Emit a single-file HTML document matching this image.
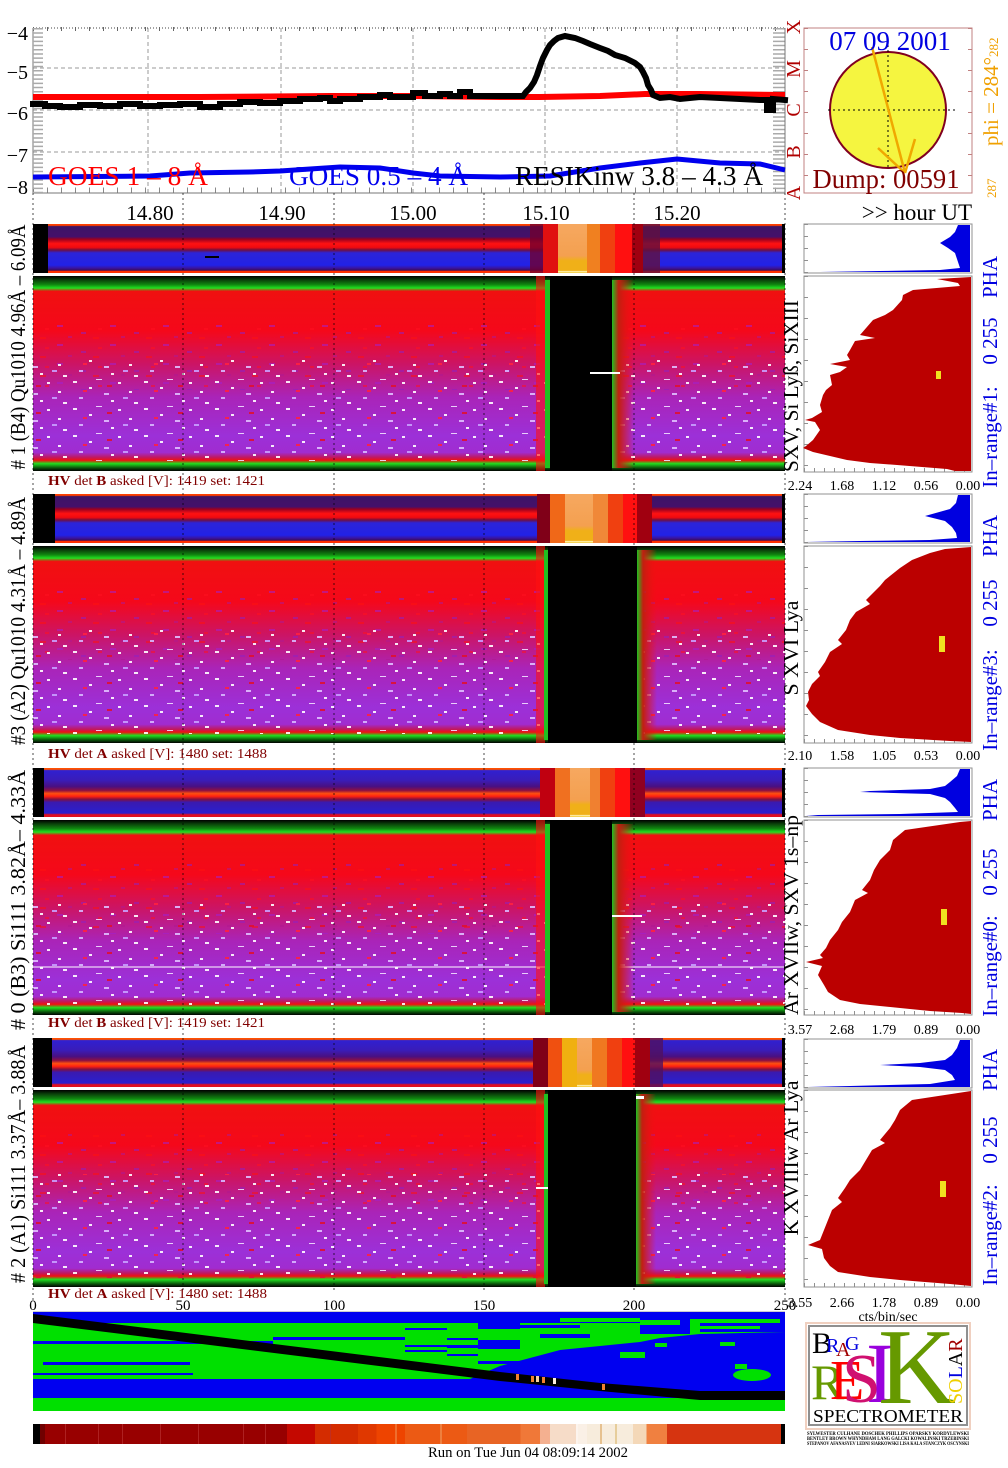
<!DOCTYPE html>
<html><head><meta charset="utf-8">
<style>html,body{margin:0;padding:0;background:#fff}svg{display:block}</style></head>
<body>
<svg width="1008" height="1468" viewBox="0 0 1008 1468" xmlns="http://www.w3.org/2000/svg" font-family="'Liberation Serif', serif">
<defs>
 <linearGradient id="bigG" x1="0" y1="0" x2="0" y2="1">
  <stop offset="0" stop-color="#000"/>
  <stop offset="0.02" stop-color="#0a400a"/>
  <stop offset="0.045" stop-color="#108a10"/>
  <stop offset="0.062" stop-color="#20e020"/>
  <stop offset="0.078" stop-color="#f01010"/>
  <stop offset="0.28" stop-color="#f5081a"/>
  <stop offset="0.45" stop-color="#cc1464"/>
  <stop offset="0.62" stop-color="#aa24b8"/>
  <stop offset="0.82" stop-color="#9c30d8"/>
  <stop offset="0.905" stop-color="#a02cd0"/>
  <stop offset="0.93" stop-color="#c01860"/>
  <stop offset="0.945" stop-color="#f01010"/>
  <stop offset="0.962" stop-color="#20e020"/>
  <stop offset="0.985" stop-color="#0a500a"/>
  <stop offset="1" stop-color="#000"/>
 </linearGradient>
 <linearGradient id="stripA" x1="0" y1="0" x2="0" y2="1">
  <stop offset="0" stop-color="#ff4000"/>
  <stop offset="0.03" stop-color="#ff4000"/>
  <stop offset="0.05" stop-color="#3c1466"/>
  <stop offset="0.26" stop-color="#44106a"/>
  <stop offset="0.31" stop-color="#9a0020"/>
  <stop offset="0.40" stop-color="#ff1212"/>
  <stop offset="0.48" stop-color="#ee0a10"/>
  <stop offset="0.53" stop-color="#701040"/>
  <stop offset="0.59" stop-color="#2c24d8"/>
  <stop offset="0.84" stop-color="#2222e6"/>
  <stop offset="0.90" stop-color="#3a14a0"/>
  <stop offset="0.945" stop-color="#3a0a5a"/>
  <stop offset="0.96" stop-color="#ff3000"/>
  <stop offset="1" stop-color="#ff3000"/>
 </linearGradient>
 <linearGradient id="stripB" x1="0" y1="0" x2="0" y2="1">
  <stop offset="0" stop-color="#ff5000"/>
  <stop offset="0.03" stop-color="#ff5000"/>
  <stop offset="0.05" stop-color="#3020d0"/>
  <stop offset="0.25" stop-color="#3a1cb8"/>
  <stop offset="0.38" stop-color="#4a1080"/>
  <stop offset="0.46" stop-color="#901040"/>
  <stop offset="0.52" stop-color="#ff5010"/>
  <stop offset="0.58" stop-color="#ff2010"/>
  <stop offset="0.64" stop-color="#801040"/>
  <stop offset="0.70" stop-color="#3a1ab0"/>
  <stop offset="0.92" stop-color="#2a20d0"/>
  <stop offset="0.955" stop-color="#e01020"/>
  <stop offset="1" stop-color="#e01020"/>
 </linearGradient>
 <linearGradient id="flLight" x1="0" y1="0" x2="0" y2="1">
  <stop offset="0" stop-color="#f6a860"/>
  <stop offset="0.65" stop-color="#f4a050"/>
  <stop offset="0.75" stop-color="#f0b018"/>
  <stop offset="0.95" stop-color="#f0b018"/>
  <stop offset="0.97" stop-color="#fff8c0"/>
  <stop offset="1" stop-color="#f0c020"/>
 </linearGradient>
 <linearGradient id="edgeG" x1="0" y1="0" x2="1" y2="0">
  <stop offset="0" stop-color="#20c020"/>
  <stop offset="0.3" stop-color="#c02010"/>
  <stop offset="1" stop-color="#f01010" stop-opacity="0"/>
 </linearGradient>
 <pattern id="spk" width="71" height="27" patternUnits="userSpaceOnUse">
  <rect x="2" y="3" width="4" height="2" fill="#fff"/>
  <rect x="18" y="9" width="3" height="2" fill="#fff"/>
  <rect x="33" y="15" width="5" height="2" fill="#e0c0ff"/>
  <rect x="47" y="4" width="3" height="2" fill="#fff"/>
  <rect x="8" y="19" width="4" height="2" fill="#d8b8ff"/>
  <rect x="40" y="22" width="3" height="2" fill="#fff"/>
  <rect x="25" y="1" width="6" height="1" fill="#f0e0ff"/>
  <rect x="58" y="13" width="3" height="2" fill="#fff"/>
  <rect x="12" y="12" width="4" height="2" fill="#ff2040"/>
  <rect x="36" y="7" width="5" height="2" fill="#e01030"/>
  <rect x="63" y="24" width="4" height="2" fill="#fff"/>
  <rect x="52" y="19" width="5" height="2" fill="#c8a0ff"/>
 </pattern>
 <pattern id="rn" width="53" height="19" patternUnits="userSpaceOnUse">
  <rect x="4" y="2" width="6" height="2" fill="#a020d0"/>
  <rect x="28" y="9" width="5" height="2" fill="#9020c0"/>
  <rect x="40" y="14" width="6" height="2" fill="#ff1010"/>
  <rect x="15" y="13" width="4" height="2" fill="#b01890"/>
  <rect x="45" y="5" width="4" height="2" fill="#ff1020"/>
 </pattern>
 <linearGradient id="cbar" gradientUnits="userSpaceOnUse" x1="33" y1="0" x2="785" y2="0">
  <stop offset="0" stop-color="#000"/><stop offset="0.0093" stop-color="#000"/>
  <stop offset="0.0093" stop-color="#700000"/><stop offset="0.016" stop-color="#700000"/>
  <stop offset="0.016" stop-color="#980000"/><stop offset="0.338" stop-color="#980000"/>
  <stop offset="0.338" stop-color="#c40800"/><stop offset="0.375" stop-color="#c40800"/>
  <stop offset="0.375" stop-color="#d42c00"/><stop offset="0.432" stop-color="#d42c00"/>
  <stop offset="0.432" stop-color="#e03800"/><stop offset="0.457" stop-color="#e03800"/>
  <stop offset="0.457" stop-color="#ee4400"/><stop offset="0.495" stop-color="#ee4400"/>
  <stop offset="0.495" stop-color="#ec5a14"/><stop offset="0.577" stop-color="#ec5a14"/>
  <stop offset="0.577" stop-color="#e86424"/><stop offset="0.648" stop-color="#e86424"/>
  <stop offset="0.648" stop-color="#f07838"/><stop offset="0.674" stop-color="#f07838"/>
  <stop offset="0.674" stop-color="#f4b090"/><stop offset="0.6875" stop-color="#f4b090"/>
  <stop offset="0.6875" stop-color="#f6dcc8"/><stop offset="0.725" stop-color="#f6dcc8"/>
  <stop offset="0.725" stop-color="#faf0e6"/><stop offset="0.737" stop-color="#faf0e6"/>
  <stop offset="0.737" stop-color="#f7ecdc"/><stop offset="0.798" stop-color="#f7ecdc"/>
  <stop offset="0.798" stop-color="#f4d8b8"/><stop offset="0.816" stop-color="#f4d8b8"/>
  <stop offset="0.816" stop-color="#f08040"/><stop offset="0.843" stop-color="#f08040"/>
  <stop offset="0.843" stop-color="#d63410"/><stop offset="0.995" stop-color="#d63410"/>
  <stop offset="0.995" stop-color="#000"/><stop offset="1" stop-color="#000"/>
 </linearGradient>
</defs>

<!-- ================= TOP PLOT ================= -->
<g stroke="#999" stroke-width="1" stroke-dasharray="4,3">
 <line x1="33" y1="68" x2="785" y2="68"/>
 <line x1="33" y1="110" x2="785" y2="110"/>
 <line x1="33" y1="152" x2="785" y2="152"/>
 <line x1="148" y1="28" x2="148" y2="193"/>
 <line x1="281" y1="28" x2="281" y2="193"/>
 <line x1="413" y1="28" x2="413" y2="193"/>
 <line x1="545" y1="28" x2="545" y2="193"/>
 <line x1="677" y1="28" x2="677" y2="193"/>
</g>
<line x1="33" y1="28" x2="785" y2="28" stroke="#444" stroke-width="1" stroke-dasharray="1,2"/>
<line x1="33" y1="29" x2="785" y2="29" stroke="#666" stroke-width="4" stroke-dasharray="1,13"/>
<line x1="33" y1="193" x2="785" y2="193" stroke="#777" stroke-width="1"/>
<line x1="33" y1="190" x2="785" y2="190" stroke="#888" stroke-width="5" stroke-dasharray="1,13"/>
<line x1="33" y1="28" x2="33" y2="193" stroke="#777" stroke-width="1"/>
<line x1="38" y1="28" x2="38" y2="193" stroke="#aaa" stroke-width="10" stroke-dasharray="1.5,2.7"/>
<line x1="779" y1="28" x2="779" y2="193" stroke="#aaa" stroke-width="12" stroke-dasharray="1.5,2.7"/>
<line x1="785" y1="28" x2="785" y2="193" stroke="#777" stroke-width="1"/>

<g font-size="20" fill="#000" text-anchor="end">
 <text x="28" y="40">−4</text>
 <text x="28" y="79">−5</text>
 <text x="28" y="120">−6</text>
 <text x="28" y="162">−7</text>
 <text x="28" y="194">−8</text>
</g>

<polyline fill="none" stroke="#ff0000" stroke-width="6" points="33,97 200,97 330,96 413,96 500,97 540,97 600,96 645,94 700,94 785,95"/>
<polyline fill="none" stroke="#000" stroke-width="6" stroke-linejoin="miter" stroke-linecap="square" points="33,104 45,104 45,106 60,106 60,107 80,107 80,105 100,105 100,106 120,106 120,104 140,104 140,106 160,106 160,105 180,105 180,104 200,104 200,107 220,107 220,104 240,104 240,102 260,102 260,103 280,103 280,101 300,101 300,99 320,99 320,98 330,98 330,101 340,101 340,99 360,99 360,97 380,97 380,95 390,95 390,97 413,97 413,93 425,93 425,96 440,96 440,94 450,94 450,96 460,96 460,92 470,92 470,96 523,96 526,92 530,88 534,82 537,75 540,66 543,58 547,50 550,45 554,41 558,38 565,36 575,38 583,41 590,44 600,48 608,51 615,55 625,58 635,63 640,67 643,72 646,78 648,85 651,90 653,95 660,98 670,97 680,99 700,97 720,98 740,99 760,100 767,100 767,110 773,110 773,99 785,100"/>
<polyline fill="none" stroke="#0000ee" stroke-width="5" points="33,177 150,176 190,173 250,172 280,171 340,167 380,168 413,173 440,176 500,177 550,176 600,168 640,163 677,159 720,163 760,164 785,170"/>

<text x="48" y="185" font-size="27" fill="#ff0000" textLength="160" lengthAdjust="spacingAndGlyphs">GOES 1 – 8 Å</text>
<text x="289" y="185" font-size="27" fill="#0000ee" textLength="179" lengthAdjust="spacingAndGlyphs">GOES 0.5 – 4 Å</text>
<text x="515" y="185" font-size="27" fill="#000" textLength="248" lengthAdjust="spacingAndGlyphs">RESIKinw 3.8 – 4.3 Å</text>

<g font-size="20" fill="#b00000" text-anchor="middle">
 <text transform="translate(800,27) rotate(-90)">X</text>
 <text transform="translate(800,69) rotate(-90)">M</text>
 <text transform="translate(800,110) rotate(-90)">C</text>
 <text transform="translate(800,152) rotate(-90)">B</text>
 <text transform="translate(800,193) rotate(-90)">A</text>
</g>

<!-- sun box -->
<rect x="804" y="28" width="168" height="165" fill="none" stroke="#c08080" stroke-width="1"/>
<line x1="806" y1="28" x2="806" y2="193" stroke="#c08080" stroke-width="4" stroke-dasharray="1,20"/>
<line x1="970" y1="28" x2="970" y2="193" stroke="#c08080" stroke-width="4" stroke-dasharray="1,20"/>
<circle cx="888" cy="110" r="58" fill="#f5f540" stroke="#800020" stroke-width="2"/>
<line x1="888" y1="45" x2="888" y2="170" stroke="#000" stroke-width="1" stroke-dasharray="2,3"/>
<line x1="828" y1="110" x2="955" y2="110" stroke="#000" stroke-width="1" stroke-dasharray="2,3"/>
<g stroke="#f0a800" stroke-width="2.5">
 <line x1="872" y1="47" x2="905" y2="173"/>
 <line x1="878" y1="148" x2="905" y2="173"/>
 <line x1="915" y1="139" x2="905" y2="173"/>
</g>
<text x="890" y="50" font-size="27" fill="#0000e0" text-anchor="middle">07 09 2001</text>
<text x="886" y="188" font-size="27" fill="#800000" text-anchor="middle" textLength="147" lengthAdjust="spacingAndGlyphs">Dump: 00591</text>
<text transform="translate(998,146) rotate(-90)" font-size="21" fill="#f0a000">phi = 284°</text>
<text transform="translate(998,57) rotate(-90)" font-size="13" fill="#f0a000">282</text>
<text transform="translate(996,198) rotate(-90)" font-size="13" fill="#f0a000">287</text>

<!-- time axis -->
<g font-size="21" fill="#000" text-anchor="middle">
 <text x="150" y="220">14.80</text>
 <text x="282" y="220">14.90</text>
 <text x="413" y="220">15.00</text>
 <text x="546" y="220">15.10</text>
 <text x="677" y="220">15.20</text>
</g>
<text x="972" y="220" font-size="23" fill="#000" text-anchor="end">&gt;&gt; hour UT</text>

<!-- ================= GROUP 1 ================= -->
<rect x="33" y="224" width="752" height="49" fill="url(#stripA)"/>
<rect x="530" y="224" width="13" height="49" fill="#700030" opacity="0.8"/>
<rect x="543" y="224" width="15" height="49" fill="#e01010"/>
<rect x="558" y="224" width="29" height="49" fill="url(#flLight)"/>
<rect x="587" y="224" width="13" height="49" fill="#f08020"/>
<rect x="600" y="224" width="15" height="49" fill="#f04010"/>
<rect x="615" y="224" width="17" height="49" fill="#ff1010"/>
<rect x="632" y="224" width="11" height="49" fill="#a00010"/>
<rect x="643" y="224" width="17" height="49" fill="#601040" opacity="0.8"/>
<rect x="33" y="224" width="15" height="49" fill="#000"/>
<rect x="782" y="224" width="3" height="49" fill="#000"/>
<rect x="205" y="256" width="14" height="2" fill="#000"/>

<rect x="33" y="276" width="752" height="195" fill="url(#bigG)"/>
<rect x="33" y="320" width="752" height="70" fill="url(#rn)" opacity="0.55"/>
<rect x="33" y="360" width="752" height="102" fill="url(#spk)" opacity="0.9"/>
<rect x="536" y="276" width="9" height="195" fill="#ff1010" opacity="0.6"/>
<rect x="545" y="280" width="5" height="188" fill="#20c020"/>
<rect x="550" y="276" width="62" height="195" fill="#000"/>
<rect x="612" y="280" width="22" height="188" fill="url(#edgeG)"/>
<rect x="590" y="372" width="30" height="2" fill="#fff"/>

<text x="48" y="485" font-size="14" fill="#800000" textLength="217" lengthAdjust="spacingAndGlyphs"><tspan font-weight="bold">HV</tspan> det <tspan font-weight="bold">B</tspan> asked [V]:  1419 set:  1421</text>

<!-- ================= GROUP 2 ================= -->
<rect x="33" y="494" width="752" height="49" fill="url(#stripA)"/>
<rect x="537" y="494" width="13" height="49" fill="#800018"/>
<rect x="550" y="494" width="15" height="49" fill="#f06818"/>
<rect x="565" y="494" width="28" height="49" fill="url(#flLight)"/>
<rect x="593" y="494" width="15" height="49" fill="#f08838"/>
<rect x="608" y="494" width="15" height="49" fill="#f04010"/>
<rect x="623" y="494" width="14" height="49" fill="#ff1010"/>
<rect x="637" y="494" width="15" height="49" fill="#a00010"/>
<rect x="33" y="494" width="22" height="49" fill="#000"/>
<rect x="782" y="494" width="3" height="49" fill="#000"/>

<rect x="33" y="546" width="752" height="197" fill="url(#bigG)"/>
<rect x="33" y="590" width="752" height="70" fill="url(#rn)" opacity="0.55"/>
<rect x="33" y="630" width="752" height="104" fill="url(#spk)" opacity="0.9"/>
<rect x="536" y="546" width="9" height="197" fill="#ff1010" opacity="0.6"/>
<rect x="544" y="550" width="4" height="190" fill="#20c020"/>
<rect x="548" y="546" width="89" height="197" fill="#000"/>
<rect x="637" y="550" width="20" height="190" fill="url(#edgeG)"/>

<text x="48" y="758" font-size="14" fill="#800000" textLength="219" lengthAdjust="spacingAndGlyphs"><tspan font-weight="bold">HV</tspan> det <tspan font-weight="bold">A</tspan> asked [V]:  1480 set:  1488</text>

<!-- ================= GROUP 3 ================= -->
<rect x="33" y="768" width="752" height="49" fill="url(#stripB)"/>
<rect x="540" y="768" width="15" height="49" fill="#c00010"/>
<rect x="555" y="768" width="15" height="49" fill="#f07020"/>
<rect x="570" y="768" width="20" height="49" fill="url(#flLight)"/>
<rect x="590" y="768" width="10" height="49" fill="#f08030"/>
<rect x="600" y="768" width="15" height="49" fill="#f04010"/>
<rect x="615" y="768" width="15" height="49" fill="#ff1010"/>
<rect x="630" y="768" width="15" height="49" fill="#900020"/>
<rect x="33" y="768" width="11" height="49" fill="#000"/>
<rect x="782" y="768" width="3" height="49" fill="#000"/>

<rect x="33" y="820" width="752" height="195" fill="url(#bigG)"/>
<rect x="33" y="864" width="752" height="70" fill="url(#rn)" opacity="0.55"/>
<rect x="33" y="902" width="752" height="104" fill="url(#spk)" opacity="0.9"/>
<rect x="33" y="966" width="752" height="2" fill="#fff" opacity="0.5"/>
<rect x="536" y="820" width="9" height="195" fill="#ff1010" opacity="0.6"/>
<rect x="545" y="824" width="5" height="188" fill="#20c020"/>
<rect x="550" y="820" width="62" height="195" fill="#000"/>
<rect x="612" y="824" width="22" height="188" fill="url(#edgeG)"/>
<rect x="612" y="915" width="30" height="2" fill="#fff"/>

<text x="48" y="1027" font-size="14" fill="#800000" textLength="217" lengthAdjust="spacingAndGlyphs"><tspan font-weight="bold">HV</tspan> det <tspan font-weight="bold">B</tspan> asked [V]:  1419 set:  1421</text>

<!-- ================= GROUP 4 ================= -->
<rect x="33" y="1038" width="752" height="49" fill="url(#stripB)"/>
<rect x="533" y="1038" width="15" height="49" fill="#800018"/>
<rect x="548" y="1038" width="14" height="49" fill="#f05010"/>
<rect x="562" y="1038" width="15" height="49" fill="#f0b010"/>
<rect x="577" y="1038" width="15" height="49" fill="url(#flLight)"/>
<rect x="592" y="1038" width="15" height="49" fill="#f07820"/>
<rect x="607" y="1038" width="15" height="49" fill="#f04010"/>
<rect x="622" y="1038" width="13" height="49" fill="#ff1010"/>
<rect x="635" y="1038" width="15" height="49" fill="#a00010"/>
<rect x="650" y="1038" width="13" height="49" fill="#501060" opacity="0.8"/>
<rect x="33" y="1038" width="19" height="49" fill="#000"/>
<rect x="782" y="1038" width="3" height="49" fill="#000"/>

<rect x="33" y="1090" width="752" height="197" fill="url(#bigG)"/>
<rect x="33" y="1134" width="752" height="70" fill="url(#rn)" opacity="0.55"/>
<rect x="33" y="1174" width="752" height="104" fill="url(#spk)" opacity="0.9"/>
<rect x="536" y="1090" width="9" height="197" fill="#ff1010" opacity="0.6"/>
<rect x="544" y="1094" width="4" height="190" fill="#20c020"/>
<rect x="548" y="1090" width="88" height="197" fill="#000"/>
<rect x="636" y="1094" width="20" height="190" fill="url(#edgeG)"/>
<rect x="636" y="1096" width="8" height="3" fill="#fff"/>
<rect x="536" y="1187" width="12" height="2" fill="#fff"/>

<text x="48" y="1298" font-size="14" fill="#800000" textLength="219" lengthAdjust="spacingAndGlyphs"><tspan font-weight="bold">HV</tspan> det <tspan font-weight="bold">A</tspan> asked [V]:  1480 set:  1488</text>

<!-- vertical dotted lines -->
<g stroke="#000" stroke-width="1" stroke-dasharray="2,3" opacity="0.7">
 <line x1="33" y1="193" x2="33" y2="1300"/>
 <line x1="183" y1="193" x2="183" y2="1290"/>
 <line x1="334" y1="193" x2="334" y2="1290"/>
 <line x1="484" y1="193" x2="484" y2="1290"/>
 <line x1="634" y1="193" x2="634" y2="1290"/>
 <line x1="785" y1="193" x2="785" y2="1300"/>
</g>

<!-- left labels -->
<g font-size="21" fill="#000" text-anchor="middle">
 <text transform="translate(25,347) rotate(-90)" textLength="245" lengthAdjust="spacingAndGlyphs"># 1 (B4) Qu1010 4.96Å – 6.09Å</text>
 <text transform="translate(25,621) rotate(-90)" textLength="248" lengthAdjust="spacingAndGlyphs">#3 (A2) Qu1010  4.31Å – 4.89Å</text>
 <text transform="translate(25,900) rotate(-90)" textLength="260" lengthAdjust="spacingAndGlyphs"># 0 (B3) Si111  3.82Å– 4.33Å</text>
 <text transform="translate(25,1164) rotate(-90)" textLength="238" lengthAdjust="spacingAndGlyphs"># 2 (A1) Si111  3.37Å– 3.88Å</text>
</g>
<!-- right line labels -->
<g font-size="21" fill="#000" text-anchor="middle">
 <text transform="translate(798,386) rotate(-90)" textLength="172" lengthAdjust="spacingAndGlyphs">SXV, Si Lyß, SiXIII</text>
 <text transform="translate(798,648) rotate(-90)" textLength="95" lengthAdjust="spacingAndGlyphs">S XVI Lya</text>
 <text transform="translate(798,915) rotate(-90)" textLength="200" lengthAdjust="spacingAndGlyphs">Ar XVIIw,  SXV 1s–np</text>
 <text transform="translate(798,1158) rotate(-90)" textLength="155" lengthAdjust="spacingAndGlyphs">K XVIIIw  Ar Lya</text>
</g>

<!-- ================= RIGHT HISTOGRAMS ================= -->
<g stroke="#909090" stroke-width="1" fill="#fff">
 <rect x="804" y="224" width="168" height="49"/>
 <rect x="804" y="276" width="168" height="196"/>
 <rect x="804" y="494" width="168" height="49"/>
 <rect x="804" y="546" width="168" height="197"/>
 <rect x="804" y="768" width="168" height="49"/>
 <rect x="804" y="820" width="168" height="195"/>
 <rect x="804" y="1039" width="168" height="49"/>
 <rect x="804" y="1090" width="168" height="197"/>
</g>
<g stroke="#909090" stroke-width="4">
 <line x1="806" y1="224" x2="806" y2="273" stroke-dasharray="1,11"/>
 <line x1="806" y1="276" x2="806" y2="472" stroke-dasharray="1,20"/>
 <line x1="806" y1="494" x2="806" y2="543" stroke-dasharray="1,11"/>
 <line x1="806" y1="546" x2="806" y2="743" stroke-dasharray="1,20"/>
 <line x1="806" y1="768" x2="806" y2="817" stroke-dasharray="1,11"/>
 <line x1="806" y1="820" x2="806" y2="1015" stroke-dasharray="1,20"/>
 <line x1="806" y1="1039" x2="806" y2="1088" stroke-dasharray="1,11"/>
 <line x1="806" y1="1090" x2="806" y2="1287" stroke-dasharray="1,20"/>
 <line x1="804" y1="470" x2="972" y2="470" stroke-dasharray="1,9"/>
 <line x1="804" y1="741" x2="972" y2="741" stroke-dasharray="1,9"/>
 <line x1="804" y1="1013" x2="972" y2="1013" stroke-dasharray="1,9"/>
 <line x1="804" y1="1285" x2="972" y2="1285" stroke-dasharray="1,9"/>
</g>
<g fill="#0000e0">
 <polygon points="970,225 958,225 955,232 950,237 940,243 948,248 955,253 958,262 960,268 940,270 880,271 820,272 806,272 970,272"/>
 <polygon points="970,495 958,495 956,503 950,509 925,516 945,521 952,527 956,533 957,538 930,540 860,541 806,542 970,542"/>
 <polygon points="970,769 960,769 957,776 950,782 945,786 930,789 870,791 860,792 930,794 945,798 950,802 955,808 958,812 900,814 818,815 806,816 970,816"/>
 <polygon points="970,1040 960,1040 957,1048 952,1055 945,1060 920,1063 880,1065 920,1067 945,1070 952,1075 955,1080 930,1084 850,1086 808,1087 970,1087"/>
</g>
<g fill="#bb0000">
 <polygon points="971,277 937,279 958,283 960,286 913,290 903,295 902,300 893,310 885,315 873,320 860,335 875,338 855,341 850,350 847,355 850,360 830,364 847,367 840,372 830,375 832,385 826,390 823,395 820,405 822,412 812,418 805,420 815,422 820,430 813,440 806,446 803,448 813,452 830,456 847,460 870,463 897,465 947,469 955,471 971,471"/>
 <polygon points="971,547 945,549 930,553 912,560 900,568 885,580 880,586 866,600 870,604 856,612 850,620 846,630 838,640 842,644 830,652 825,662 818,672 820,676 812,684 808,692 809,700 806,706 812,714 820,722 838,730 870,735 900,738 950,741 971,742"/>
 <polygon points="971,821 960,822 905,830 893,840 890,850 880,860 874,870 870,880 862,890 868,893 855,900 850,912 842,922 838,930 830,940 826,948 820,955 823,958 806,962 822,966 818,975 824,985 828,992 840,1000 860,1004 900,1008 930,1011 962,1013 971,1014"/>
 <polygon points="971,1091 958,1093 912,1100 900,1110 895,1120 890,1128 880,1140 885,1143 872,1150 866,1160 860,1170 850,1180 845,1188 838,1198 842,1202 832,1210 828,1220 824,1230 820,1240 808,1245 822,1249 824,1258 830,1266 838,1272 870,1277 900,1280 950,1284 971,1286"/>
</g>
<g fill="#f0e020">
 <rect x="936" y="371" width="5" height="8"/>
 <rect x="939" y="636" width="6" height="16"/>
 <rect x="941" y="909" width="6" height="16"/>
 <rect x="940" y="1181" width="6" height="16"/>
</g>
<g font-size="14" fill="#000" text-anchor="middle">
 <text x="800" y="490">2.24</text><text x="842" y="490">1.68</text><text x="884" y="490">1.12</text><text x="926" y="490">0.56</text><text x="968" y="490">0.00</text>
 <text x="800" y="760">2.10</text><text x="842" y="760">1.58</text><text x="884" y="760">1.05</text><text x="926" y="760">0.53</text><text x="968" y="760">0.00</text>
 <text x="800" y="1034">3.57</text><text x="842" y="1034">2.68</text><text x="884" y="1034">1.79</text><text x="926" y="1034">0.89</text><text x="968" y="1034">0.00</text>
 <text x="800" y="1307">3.55</text><text x="842" y="1307">2.66</text><text x="884" y="1307">1.78</text><text x="926" y="1307">0.89</text><text x="968" y="1307">0.00</text>
</g>
<text x="888" y="1321" font-size="14" fill="#000" text-anchor="middle">cts/bin/sec</text>

<!-- far right blue labels -->
<g font-size="21" fill="#0000e0" text-anchor="middle">
 <text transform="translate(997,277) rotate(-90)">PHA</text>
 <text transform="translate(997,341) rotate(-90)">0 255</text>
 <text transform="translate(997,437) rotate(-90)">In–range#1:</text>
 <text transform="translate(997,536) rotate(-90)">PHA</text>
 <text transform="translate(997,603) rotate(-90)">0 255</text>
 <text transform="translate(997,700) rotate(-90)">In–range#3:</text>
 <text transform="translate(997,800) rotate(-90)">PHA</text>
 <text transform="translate(997,872) rotate(-90)">0 255</text>
 <text transform="translate(997,966) rotate(-90)">In–range#0:</text>
 <text transform="translate(997,1070) rotate(-90)">PHA</text>
 <text transform="translate(997,1140) rotate(-90)">0 255</text>
 <text transform="translate(997,1235) rotate(-90)">In–range#2:</text>
</g>

<!-- bottom axis labels -->
<g font-size="15" fill="#000" text-anchor="middle">
 <text x="33" y="1310">0</text>
 <text x="183" y="1310">50</text>
 <text x="334" y="1310">100</text>
 <text x="484" y="1310">150</text>
 <text x="634" y="1310">200</text>
 <text x="785" y="1310">250</text>
</g>

<!-- ================= ORBIT MAP ================= -->
<line x1="33" y1="1312" x2="785" y2="1312" stroke="#999" stroke-width="1"/>
<rect x="33" y="1312" width="752" height="99" fill="#00e000"/>
<rect x="33" y="1312" width="752" height="11" fill="#0000f0"/>
<rect x="33" y="1379" width="752" height="19" fill="#0000f0"/>
<polygon fill="#0000f0" points="470,1379 500,1366 530,1358 560,1350 600,1346 640,1342 660,1338 700,1334 785,1332 785,1379"/>
<g fill="#0000f0">
 <rect x="33" y="1341" width="240" height="3"/>
 <rect x="273" y="1337" width="132" height="3"/>
 <rect x="43" y="1362" width="147" height="3"/>
 <rect x="33" y="1373" width="160" height="2"/>
 <rect x="405" y="1328" width="42" height="2"/>
 <rect x="405" y="1345" width="42" height="2"/>
 <rect x="405" y="1350" width="42" height="2"/>
 <rect x="447" y="1338" width="31" height="2"/>
 <rect x="447" y="1345" width="31" height="3"/>
 <rect x="447" y="1354" width="31" height="2"/>
 <rect x="478" y="1323" width="42" height="6"/>
 <rect x="478" y="1340" width="42" height="9"/>
 <rect x="478" y="1361" width="42" height="3"/>
 <rect x="520" y="1325" width="60" height="3"/>
 <rect x="540" y="1334" width="50" height="4"/>
 <rect x="600" y="1315" width="185" height="8" />
 <rect x="640" y="1322" width="50" height="12"/>
 <rect x="700" y="1322" width="85" height="10"/>
</g>
<g fill="#00e000">
 <rect x="560" y="1318" width="80" height="4"/>
 <rect x="640" y="1320" width="40" height="5"/>
 <rect x="690" y="1319" width="90" height="4"/>
 <rect x="700" y="1326" width="60" height="3"/>
 <rect x="620" y="1352" width="25" height="6"/>
 <rect x="655" y="1343" width="12" height="4"/>
 <rect x="720" y="1342" width="15" height="4"/>
 <ellipse cx="752" cy="1375" rx="19" ry="6"/>
 <rect x="735" y="1364" width="12" height="5"/>
 <rect x="33" y="1398" width="752" height="13"/>
</g>
<polygon fill="#000" points="33,1314 500,1372 600,1383 700,1391 785,1391 785,1400 700,1400 600,1391 500,1381 33,1323"/>
<g fill="#f08030">
 <rect x="516" y="1374" width="3" height="6"/>
 <rect x="531" y="1376" width="3" height="6"/>
 <rect x="536" y="1376" width="3" height="6" fill="#f8d0a0"/>
 <rect x="542" y="1377" width="3" height="6"/>
 <rect x="553" y="1378" width="3" height="6" fill="#fff0e0"/>
 <rect x="602" y="1384" width="3" height="6"/>
</g>

<!-- color bar -->
<rect x="33" y="1424" width="752" height="20" fill="url(#cbar)"/>
<g fill="#b83030" opacity="0.7">
 <rect x="65" y="1424" width="1" height="20"/><rect x="98" y="1424" width="1" height="20"/>
 <rect x="122" y="1424" width="1" height="20"/><rect x="160" y="1424" width="1" height="20"/>
 <rect x="198" y="1424" width="1" height="20"/><rect x="243" y="1424" width="1" height="20"/>
 <rect x="265" y="1424" width="1" height="20"/><rect x="330" y="1424" width="1" height="20"/>
 <rect x="395" y="1424" width="2" height="20" fill="#f08040"/><rect x="440" y="1424" width="2" height="20" fill="#f09050"/>
 <rect x="600" y="1424" width="2" height="20" fill="#e0b070"/><rect x="615" y="1424" width="2" height="20" fill="#e0c080"/>
 <rect x="576" y="1424" width="2" height="20" fill="#ffffff"/>
</g>
<text x="428" y="1457" font-size="15" fill="#000" textLength="200" lengthAdjust="spacingAndGlyphs">Run on Tue Jun 04 08:09:14 2002</text>

<!-- ================= LOGO ================= -->
<rect x="806" y="1323" width="164" height="106" fill="#fff" stroke="#f0d0c0" stroke-width="2"/>
<rect x="809" y="1326" width="158" height="99" fill="#fff" stroke="#909090" stroke-width="2"/>
<text x="812" y="1353" font-size="30" fill="#000">B</text>
<text x="826" y="1352" font-size="20" fill="#0000e0">R</text>
<text x="836" y="1356" font-size="20" fill="#a00000">A</text>
<text x="845" y="1350" font-size="20" fill="#0000e0">G</text>
<text x="811" y="1399" font-size="50" fill="#669900">R</text>
<text x="830" y="1399" font-size="56" fill="#ff0000">E</text>
<text x="866" y="1402" font-size="86" fill="#9900dd">I</text>
<text x="842" y="1402" font-size="70" fill="#d01070">S</text>
<text x="878" y="1403" font-size="108" fill="#669900">K</text>
<text transform="translate(962,1404) rotate(-90)" font-size="20"><tspan fill="#f0d000">SO</tspan><tspan fill="#0000e0">L</tspan><tspan fill="#000">A</tspan><tspan fill="#a00000">R</tspan></text>
<text x="813" y="1422" font-size="18" fill="#000" textLength="150" lengthAdjust="spacingAndGlyphs">SPECTROMETER</text>
<g font-size="5" fill="#000" font-weight="bold">
 <text x="807" y="1435" textLength="162" lengthAdjust="spacingAndGlyphs">SYLWESTER CULHANE DOSCHEK PHILLIPS OPARSKY KORDYLEWSKI</text>
 <text x="807" y="1440" textLength="162" lengthAdjust="spacingAndGlyphs">BENTLEY BROWN WHYNDHAM LANG GALCKI KOWALINSKI TRZEBINSKI</text>
 <text x="807" y="1445" textLength="162" lengthAdjust="spacingAndGlyphs">STEPANOV AFANASYEV LEDNI SIARKOWSKI LISA KALA STANCZYK OSCYNSKI</text>
</g>
</svg>
</body></html>
